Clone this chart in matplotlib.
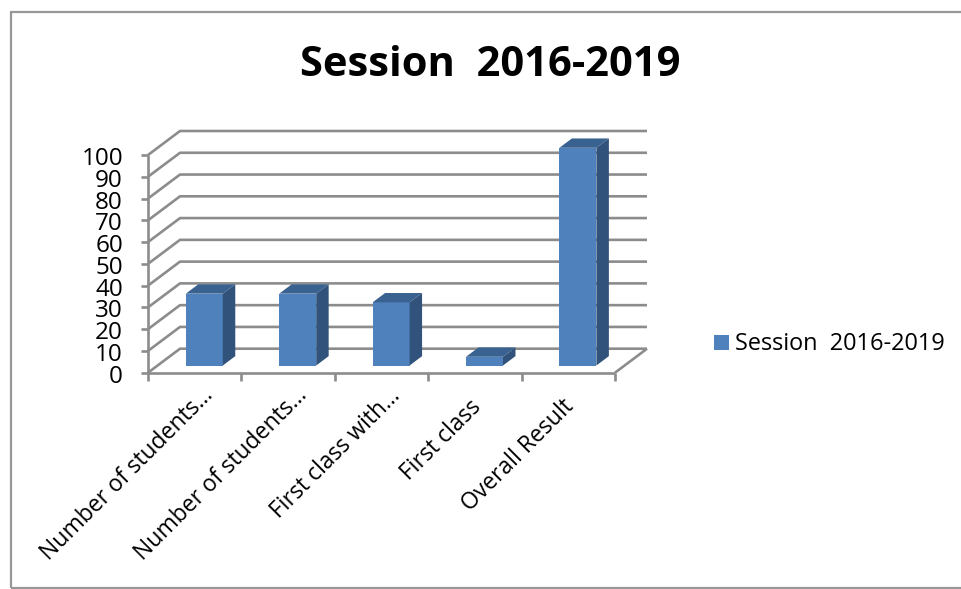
import matplotlib
matplotlib.use("Agg")
import matplotlib.pyplot as plt
from matplotlib.patches import Polygon, Rectangle
from matplotlib.lines import Line2D

categories = ["Number of students…", "Number of students…", "First class with…", "First class", "Overall Result"]
values = [33, 33, 29, 4, 100]
y_ticks = [0, 10, 20, 30, 40, 50, 60, 70, 80, 90, 100]
series_name = "Session  2016-2019"

W, H = 962, 589
BLUE, TOP, SIDE = "#4F81BD", "#3A6290", "#31527B"
GRID = "#8C8C8C"
FONT = ["Open Sans", "DejaVu Sans"]
LABEL_OFFSETS = [(5, -8), (5, -8), (5, -8), (-4, -16), (-5, -16)]

fig = plt.figure(figsize=(W / 100, H / 100), dpi=100, facecolor="white")
# frame of the chart area
fig.add_artist(Rectangle((10.5 / W, 1 / H), 2000 / W, 576 / H, transform=fig.transFigure,
                         fill=False, ec="#989898", lw=1.6))

L, R, T, B = 148, 615, 155, 372.7
ax = fig.add_axes([L / W, 1 - B / H, (R - L) / W, (B - T) / H])
ax.set_xlim(0, len(categories))
ax.set_ylim(0, max(y_ticks))
ax.axis("off")

DX = 32 / ((R - L) / len(categories))   # depth in category units
DY = 24 / ((B - T) / max(y_ticks))      # depth in value units


def proj(x, y, d):
    return x + DX * d, y + DY * d


def line(pts, lw=1.9, color=GRID):
    ax.add_line(Line2D([p[0] for p in pts], [p[1] for p in pts], color=color, lw=lw,
                       clip_on=False, solid_capstyle="butt", zorder=1))


n = len(categories)
for v in y_ticks:
    line([proj(0, v, 0), proj(0, v, 1), proj(n, v, 1)])
    line([(-0.08, v), (0, v)])
    ax.annotate(str(v), (0, v), xytext=(-18, -0.7), textcoords="offset points", ha="right", va="center_baseline",
                fontsize=17.5, family=FONT, color="black", annotation_clip=False)
line([(0, 0), (0, max(y_ticks))])
line([(0, 0), (n, 0)])
line([proj(n, 0, 0), proj(n, 0, 1)])
for i in range(n + 1):
    line([(i, 0), (i, -4)])

BW, D0, D1 = 0.396, 0.30, 0.69
for i, v in enumerate(values):
    c = i + 0.5
    x0, x1 = c - BW / 2, c + BW / 2
    a = proj(x0, 0, D0); b = proj(x1, 0, D0)
    ta = proj(x0, v, D0); tb = proj(x1, v, D0)
    tc = proj(x1, v, D1); td = proj(x0, v, D1); bc = proj(x1, 0, D1)
    ax.add_patch(Polygon([a, b, tb, ta], fc=BLUE, ec="none", clip_on=False, zorder=4))
    ax.add_patch(Polygon([ta, tb, tc, td], fc=TOP, ec="none", clip_on=False, zorder=4))
    ax.add_patch(Polygon([b, bc, tc, tb], fc=SIDE, ec="none", clip_on=False, zorder=4))

for i, name in enumerate(categories):
    ax.annotate(name, (i + 0.5, 0), xytext=LABEL_OFFSETS[i], textcoords="offset points", rotation=45,
                rotation_mode="anchor", ha="right", va="top", fontsize=16.5, family=FONT,
                color="black", annotation_clip=False)

fig.text(490.5 / W, 1 - 66 / H, series_name, ha="center", va="center", fontsize=30, fontweight="bold",
         family=FONT, color="black")

fig.add_artist(Rectangle((714 / W, 1 - 350 / H), 15 / W, 15 / H, transform=fig.transFigure, fc=BLUE, ec="none"))
fig.text(735 / W, 1 - 344 / H, series_name, ha="left", va="center", fontsize=16.9, family=FONT, color="black")

fig.savefig("out.png", dpi=100)
